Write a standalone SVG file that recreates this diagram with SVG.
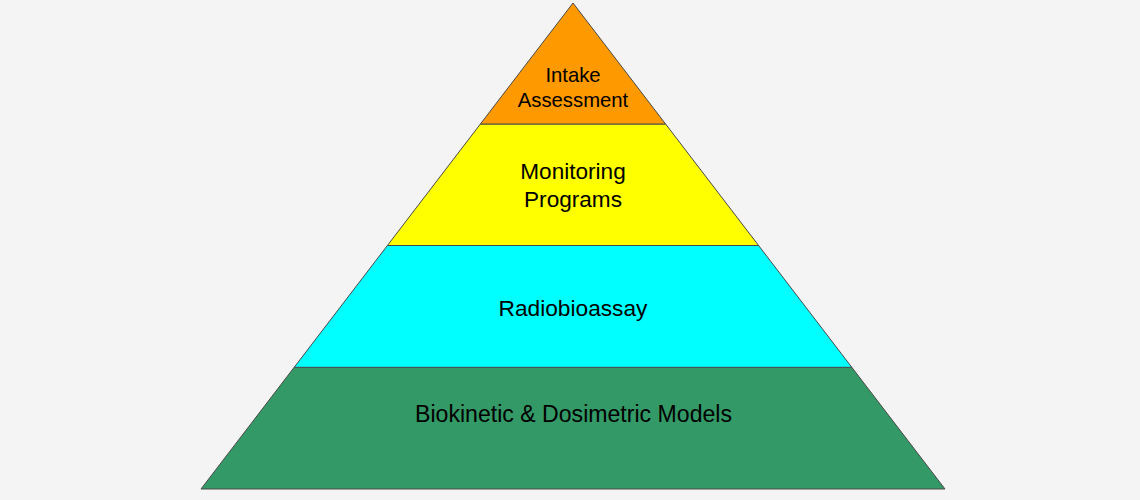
<svg xmlns="http://www.w3.org/2000/svg" width="1140" height="500" viewBox="0 0 1140 500">
  <style>
    .lvl { stroke: #4a4a4a; stroke-width: 1; stroke-linejoin: miter; }
    .lbl { font-family: "Liberation Sans", Arial, sans-serif; fill: #000; text-anchor: middle; }
  </style>
  <rect width="1140" height="500" fill="#F4F4F4"/>
  <g id="level-biokinetic">
    <polygon class="lvl" fill="#339966" points="294.2,367.3 851.8,367.3 945,489 201,489"/>
    <text class="lbl" x="573.5" y="422" font-size="23.1">Biokinetic &amp; Dosimetric Models</text>
  </g>
  <g id="level-radiobioassay">
    <polygon class="lvl" fill="#00FFFF" points="387.4,245.5 758.6,245.5 851.8,367.3 294.2,367.3"/>
    <text class="lbl" x="573" y="315.5" font-size="22.7">Radiobioassay</text>
  </g>
  <g id="level-monitoring">
    <polygon class="lvl" fill="#FFFF00" points="480.4,124 665.6,124 758.6,245.5 387.4,245.5"/>
    <text class="lbl" x="573" y="179.3" font-size="22.6">Monitoring</text>
    <text class="lbl" x="573" y="207.3" font-size="22.6">Programs</text>
  </g>
  <g id="level-intake">
    <polygon class="lvl" fill="#FF9900" points="573,3 665.6,124 480.4,124"/>
    <text class="lbl" x="573" y="82" font-size="20.3">Intake</text>
    <text class="lbl" x="573" y="107.3" font-size="20.3">Assessment</text>
  </g>
  <g id="connectors"/>
</svg>
